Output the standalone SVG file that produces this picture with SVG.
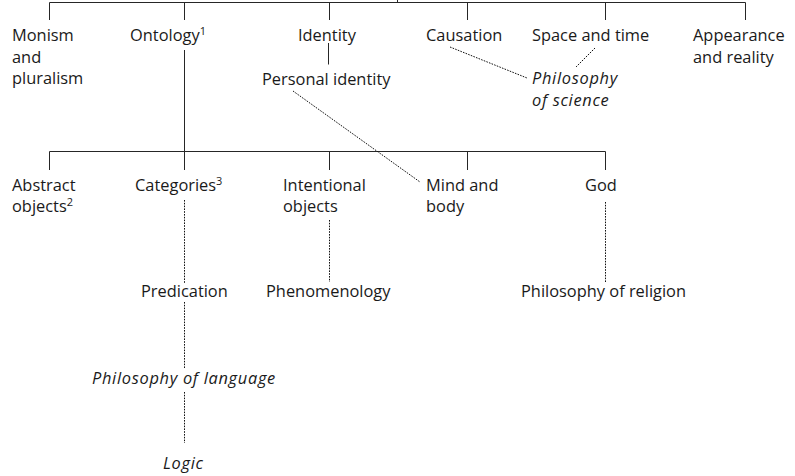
<svg xmlns="http://www.w3.org/2000/svg" width="795" height="476" viewBox="0 0 795 476">
  <style>
    text { font-family: "Open Sans", "Noto Sans", "Liberation Sans", sans-serif; font-size: 16.4px; fill: #1a1a1a; }
    .it { font-style: italic; letter-spacing: 0.7px; }
    .sup { font-size: 11px; letter-spacing: 0; }
    .tree { stroke: #262626; stroke-width: 1; fill: none; }
    .link { stroke: #111; stroke-width: 1; stroke-dasharray: 1.6 1.2; fill: none; }
  </style>

  <!-- connectors -->
  <g id="connectors">
    <!-- top-level branch -->
    <path class="tree" d="M397.5 0 V2.5 M49.5 2.5 H745.5 M49.5 2.5 V20 M184.5 2.5 V20 M329.5 2.5 V20 M467.5 2.5 V20 M605.5 2.5 V20 M745.5 2.5 V20"/>
    <!-- Identity to Personal identity -->
    <path class="tree" d="M328.5 43 V64.5"/>
    <!-- Ontology branch -->
    <path class="tree" d="M184.5 50 V170 M49.5 151.5 H605.5 M49.5 151.5 V170 M329.5 151.5 V170 M467.5 151.5 V170 M605.5 151.5 V170"/>
    <!-- cross links -->
    <path class="link" d="M293 91 L420 182"/>
    <path class="link" d="M450 47 L527 78"/>
    <path class="link" d="M595 48 L576 67"/>
    <path class="link" d="M184.5 200 V283"/>
    <path class="link" d="M329.5 220 V282"/>
    <path class="link" d="M605.5 202 V282"/>
    <path class="link" d="M184.5 302 V368"/>
    <path class="link" d="M184.5 392 V443"/>
  </g>

  <!-- first level -->
  <g id="monism"><text x="12" y="41">Monism</text><text x="12" y="62.5">and</text><text x="12" y="84">pluralism</text></g>
  <g id="ontology"><text x="130" y="41">Ontology<tspan class="sup" dy="-6">1</tspan></text></g>
  <g id="identity"><text x="298" y="41">Identity</text></g>
  <g id="personal-identity"><text x="262" y="84.5">Personal identity</text></g>
  <g id="causation"><text x="426" y="41">Causation</text></g>
  <g id="space-time"><text x="532" y="41">Space and time</text></g>
  <g id="appearance"><text x="693" y="41">Appearance</text><text x="693" y="62.5">and reality</text></g>
  <g id="philosophy-science"><text class="it" x="532" y="84">Philosophy</text><text class="it" x="532" y="105.5">of science</text></g>

  <!-- second level -->
  <g id="abstract"><text x="12" y="190.5">Abstract</text><text x="12" y="212">objects<tspan class="sup" dy="-6">2</tspan></text></g>
  <g id="categories"><text x="135" y="190.5">Categories<tspan class="sup" dy="-6">3</tspan></text></g>
  <g id="intentional"><text x="283" y="190.5">Intentional</text><text x="283" y="212">objects</text></g>
  <g id="mind-body"><text x="426" y="190.5">Mind and</text><text x="426" y="212">body</text></g>
  <g id="god"><text x="585" y="190.5">God</text></g>

  <!-- related fields -->
  <g id="predication"><text x="141" y="297">Predication</text></g>
  <g id="phenomenology"><text x="266" y="297">Phenomenology</text></g>
  <g id="philosophy-religion"><text x="521" y="297">Philosophy of religion</text></g>
  <g id="philosophy-language"><text class="it" x="92" y="383.5">Philosophy of language</text></g>
  <g id="logic"><text class="it" x="163" y="468.5">Logic</text></g>
</svg>
